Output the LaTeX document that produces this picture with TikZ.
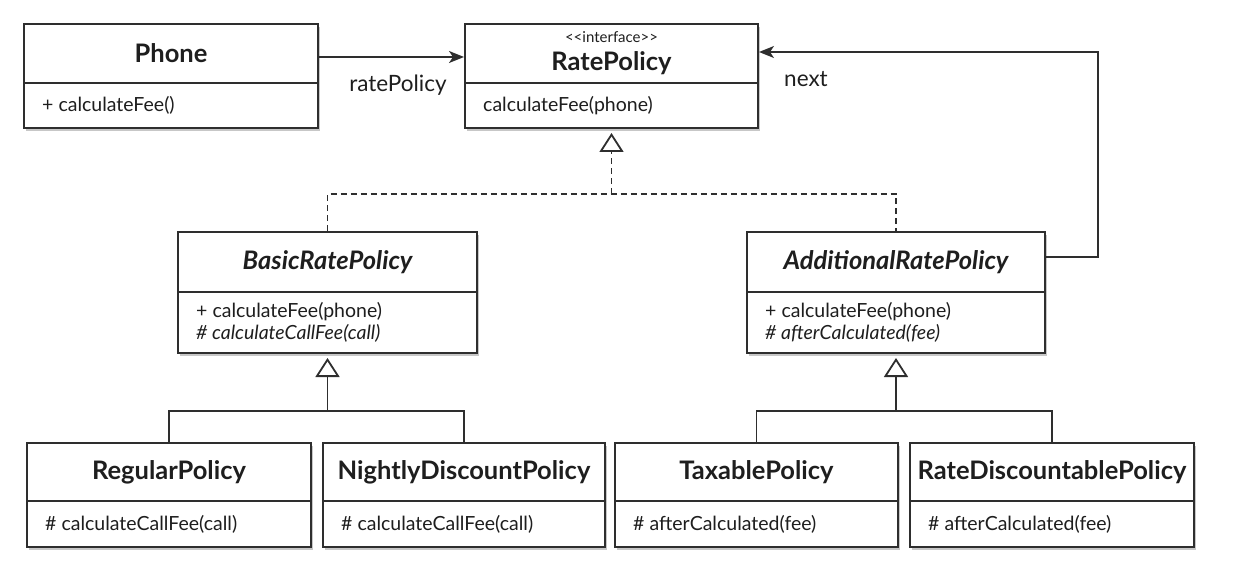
\documentclass[tikz,border=0pt]{standalone}
\usepackage{fontspec}
\setmainfont{Lato}
\usetikzlibrary{arrows.meta,calc,fit,shadows}
\definecolor{ink}{HTML}{2E2E2E}
\definecolor{txt}{HTML}{1E1E1E}
\tikzset{
  classbox/.style={draw=ink, line width=2pt, fill=white, inner sep=0pt,
    drop shadow={shadow xshift=1.5pt, shadow yshift=-3pt, opacity=0.22, fill=black}},
  divider/.style={draw=ink, line width=2pt},
  titletext/.style={font=\bfseries\fontsize{25.5}{29}\selectfont, text=txt, inner sep=0pt, align=center},
  membertext/.style={font=\fontsize{19.5}{22}\selectfont, text=txt, inner sep=0pt, anchor=west, align=left},
  label/.style={font=\fontsize{22.5}{26}\selectfont, text=txt, inner sep=0pt},
  conn/.style={draw=ink, line width=1.8pt},
  assoc/.style={conn, -{Stealth[length=15pt, width=12pt, inset=4pt]}},
  gen/.style={conn, -{Triangle[open, length=19pt, width=24pt, fill=white]}, shorten >=4pt},
  real/.style={gen, dash pattern=on 6pt off 4pt},
  dashline/.style={conn, dash pattern=on 6pt off 4pt},
}
\newcommand\umlclass[8]{%
  \coordinate (#1-a) at (#2,#3);
  \coordinate (#1-b) at (#4,#6);
  \node[classbox, fit=(#1-a)(#1-b)] (#1) {};
  \draw[divider] (#2,#5) -- (#4,#5);
  \node[titletext] (#1-title) at ({(#2+#4)/2},{(#3+#5)/2}) {#7};
  \node[membertext] (#1-members) at ({#2+18},{(#5+#6)/2}) {#8};
}
\begin{document}
\begin{tikzpicture}[x=1pt, y=-1pt]
\useasboundingbox (0,0) rectangle (1234,564);

\umlclass{phone}{24}{24}{318}{83}{128}{Phone}{+ calculateFee()}
\umlclass{rate}{465}{24}{758}{83}{128}{{\fontsize{15}{16}\selectfont\mdseries \textless\kern0pt\textless\kern0pt interface\kern0pt\textgreater\kern0pt\textgreater}\\[-1pt]RatePolicy}{calculateFee(phone)}
\umlclass{basic}{178}{232}{477}{292}{353}{\itshape BasicRatePolicy}{+ calculateFee(phone)\\\itshape \# calculateCallFee(call)}
\umlclass{add}{747}{232}{1045}{292}{353}{\itshape AdditionalRatePolicy}{+ calculateFee(phone)\\\itshape \# afterCalculated(fee)}
\umlclass{regular}{27}{443}{311}{501}{547}{RegularPolicy}{\# calculateCallFee(call)}
\umlclass{nightly}{323}{443}{605}{501}{547}{NightlyDiscountPolicy}{\# calculateCallFee(call)}
\umlclass{taxable}{615}{443}{898}{501}{547}{TaxablePolicy}{\# afterCalculated(fee)}
\umlclass{ratedisc}{910}{443}{1194}{501}{547}{RateDiscountablePolicy}{\# afterCalculated(fee)}

% association Phone -> RatePolicy
\draw[assoc] ($(phone.north east)+(0,34)$) -- ($(rate.north west)+(0,34)$);
\node[label] (lblrate) at (398,85) {ratePolicy};

% next association
\coordinate (nextcorner1) at ($(add.north east)+(52,26)$);
\coordinate (nextcorner2) at ($(rate.north east)+(339,29)$);
\draw[assoc] ($(add.north east)+(0,26)$) -- (nextcorner1) -- (nextcorner2) -- ($(rate.north east)+(0,29)$);
\node[label] (lblnext) at (806,79) {next};

% realization
\coordinate (jr) at ($(rate.south)+(0,65)$);
\draw[dashline] (basic.north) |- (jr) -| (add.north);
\draw[real] (jr) -- (rate.south);

% generalization left
\coordinate (jl) at ($(basic.south)+(0,57)$);
\draw[conn] (regular.north) |- (jl) -| (nightly.north);
\draw[gen] (jl) -- (basic.south);

% generalization right
\coordinate (jr2) at ($(add.south)+(0,57)$);
\draw[conn] (taxable.north) |- (jr2) -| (ratedisc.north);
\draw[gen] (jr2) -- (add.south);
\end{tikzpicture}
\end{document}
